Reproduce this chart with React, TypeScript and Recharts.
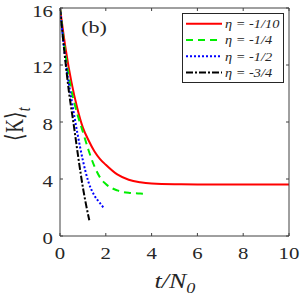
import { LineChart, Line, XAxis, YAxis, Legend, Customized } from 'recharts'

// (t/N0, <K>_t)
const redT = [0, 0.25, 0.5, 0.75, 1, 1.25, 1.5, 1.75, 2, 2.5, 3, 3.5, 4, 5, 6, 7, 8, 9, 10]
const redK = [16, 13.1, 10.8, 9.0, 7.6, 6.7, 5.95, 5.4, 5.0, 4.32, 3.95, 3.77, 3.68, 3.63, 3.62, 3.62, 3.62, 3.62, 3.62]
const greenT = [0, 0.25, 0.5, 0.75, 1, 1.25, 1.5, 1.75, 2, 2.5, 3, 3.5, 3.7]
const greenK = [16, 12.6, 10.2, 8.6, 7.3, 6.0, 4.9, 4.1, 3.65, 3.2, 3.03, 2.98, 2.97]
const blueT = [0, 0.25, 0.5, 0.75, 1, 1.25, 1.5, 1.75, 1.92]
const blueK = [16, 12.2, 9.6, 7.3, 5.3, 3.75, 2.85, 2.3, 1.95]
const blackT = [0, 0.2, 0.4, 0.6, 0.8, 1.0, 1.15, 1.28]
const blackK = [16, 12.8, 10.0, 7.8, 5.5, 3.4, 2.1, 1.1]

const seriesNames = ['η = -1/10', 'η = -1/4', 'η = -1/2', 'η = -3/4']
const seriesColors = ['#ff0000', '#00ee00', '#0000ff', '#000000']
const seriesDash = ['', '7 5', '2 2', '7 2 2 2']

const xTicks = [0, 2, 4, 6, 8, 10]
const yTicks = [0, 4, 8, 12, 16]

const toPts = (ts: number[], ks: number[]) => ts.map((t, i) => ({ t, k: ks[i] }))
const series = [toPts(redT, redK), toPts(greenT, greenK), toPts(blueT, blueK), toPts(blackT, blackK)]

const SERIF = "'Liberation Serif', 'Times New Roman', serif"
const INK = '#262626'
const AXIS = '#404040'
const serif = { fontFamily: SERIF }

function XTick({ x, y, payload }: any) {
  return (
    <text transform={`translate(${x},${y}) scale(1.3,1)`} textAnchor="middle" dy="0.71em"
      style={serif} fontSize={16} fill={INK}>{payload.value}</text>
  )
}

function YTick({ x, y, payload }: any) {
  return (
    <text transform={`translate(${x},${y}) scale(1.3,1)`} textAnchor="end" dy="0.5em"
      style={serif} fontSize={16} fill={INK}>{payload.value}</text>
  )
}

// frame axes only need their tick marks, no labels
const NoLabel = () => <g />

function Labels() {
  return (
    <g style={serif} fill={INK}>
      <text transform="translate(94,33) scale(1.3,1)" textAnchor="middle" fontSize={17}>(b)</text>
      <text transform="translate(175,288) scale(1.3,1)" textAnchor="middle" fontSize={20} fontStyle="italic">
        t/N<tspan fontSize={14} dy={5}>0</tspan>
      </text>
      <text transform="translate(23,124) scale(1.3,1) rotate(-90)" textAnchor="middle" fontSize={19}>
        ⟨K⟩<tspan fontSize={14} dy={5} fontStyle="italic">t</tspan>
      </text>
    </g>
  )
}

function LegendBox() {
  return (
    <svg width={102} height={70} style={{ display: 'block' }}>
      <rect x={0.5} y={0.5} width={101} height={69} fill="#fff" stroke={INK} strokeWidth={1} />
      {seriesNames.map((n, i) => {
        const cy = 10.7 + i * 16.3
        return (
          <g key={n}>
            <line x1={4} x2={40} y1={cy} y2={cy} stroke={seriesColors[i]} strokeWidth={2}
              strokeDasharray={seriesDash[i] || undefined} />
            <text transform={`translate(43,${cy}) scale(1.15,1)`} dy="0.35em" style={serif}
              fontSize={12.5} fontStyle="italic" fill={INK}>{n}</text>
          </g>
        )
      })}
    </svg>
  )
}

export default function App() {
  return (
    <div style={{ position: 'absolute', left: 0, top: 0, width: 300, height: 299, background: '#fff' }}>
      <LineChart width={300} height={299} margin={{ top: 8, right: 11, bottom: 0, left: 0 }}>
        <XAxis xAxisId="x" dataKey="t" type="number" domain={[0, 10]} ticks={xTicks} allowDataOverflow
          height={63} tickLine={false} tickSize={6} tickMargin={6} tick={<XTick />}
          axisLine={{ stroke: AXIS }} />
        <XAxis xAxisId="xb" dataKey="t" type="number" domain={[0, 10]} ticks={xTicks} allowDataOverflow
          orientation="bottom" mirror height={1} tick={NoLabel} tickSize={3} axisLine={false}
          tickLine={{ stroke: AXIS }} />
        <XAxis xAxisId="xt" dataKey="t" type="number" domain={[0, 10]} ticks={xTicks} allowDataOverflow
          orientation="top" mirror height={1} tick={NoLabel} tickSize={3}
          axisLine={{ stroke: AXIS }} tickLine={{ stroke: AXIS }} />
        <YAxis yAxisId="y" type="number" domain={[0, 16]} ticks={yTicks} allowDataOverflow
          width={60} tickLine={false} tickSize={3} tickMargin={4} tick={<YTick />}
          axisLine={{ stroke: AXIS }} />
        <YAxis yAxisId="yl" type="number" domain={[0, 16]} ticks={yTicks} allowDataOverflow
          orientation="left" mirror width={1} tick={NoLabel} tickSize={3} axisLine={false}
          tickLine={{ stroke: AXIS }} />
        <YAxis yAxisId="yr" type="number" domain={[0, 16]} ticks={yTicks} allowDataOverflow
          orientation="right" mirror width={1} tick={NoLabel} tickSize={3}
          axisLine={{ stroke: AXIS }} tickLine={{ stroke: AXIS }} />
        {series.map((d, i) => (
          <Line key={seriesNames[i]} data={d} dataKey="k" name={seriesNames[i]}
            xAxisId="x" yAxisId="y" type="monotone" dot={false} isAnimationActive={false}
            stroke={seriesColors[i]} strokeWidth={2}
            strokeDasharray={seriesDash[i] || undefined} />
        ))}
        <Legend layout="vertical" align="center" verticalAlign="middle" content={<LegendBox />}
          wrapperStyle={{ left: 182, top: 13, width: 102, height: 70 }} />
        <Customized component={<Labels />} />
      </LineChart>
    </div>
  )
}
